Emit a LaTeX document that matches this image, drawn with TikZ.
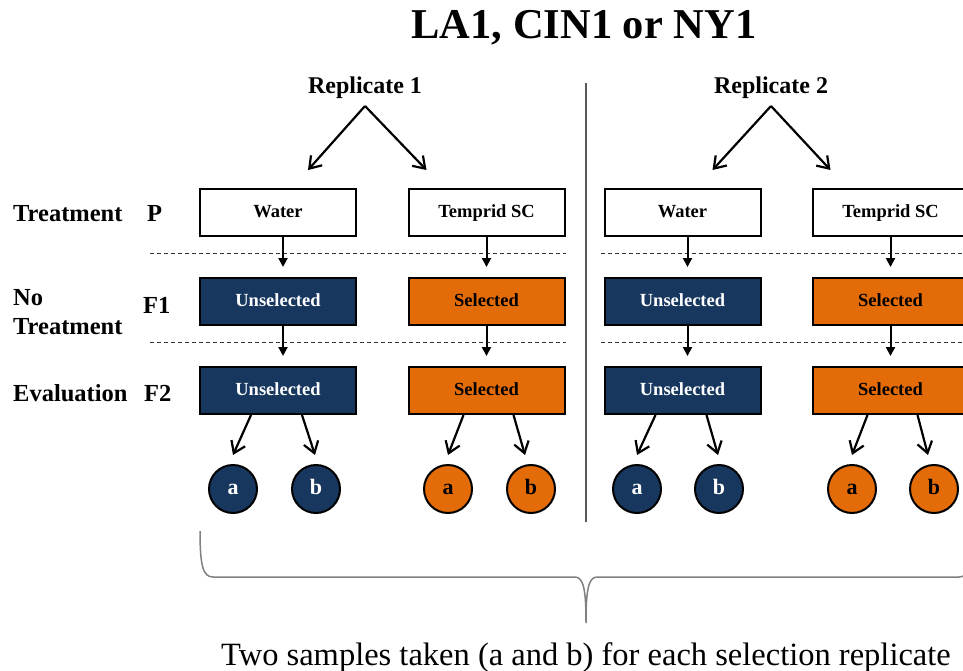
\documentclass[tikz,border=0pt]{standalone}
\usepackage{fontspec}
\setmainfont{Liberation Serif}
\usetikzlibrary{arrows.meta,calc}
\definecolor{navy}{HTML}{17375E}
\definecolor{orng}{HTML}{E36C09}
\definecolor{divider}{HTML}{595959}
\definecolor{bracegray}{HTML}{808080}
\begin{document}
\begin{tikzpicture}[x=1pt,y=-1pt,
  box/.style={draw=black,line width=2pt,minimum width=156pt,minimum height=47pt,
    inner sep=0pt,text height=13pt,text depth=3pt,
    font=\fontsize{18.5}{18.5}\selectfont\bfseries},
  water/.style={box,fill=white},
  unsel/.style={box,fill=navy,text=white},
  sel/.style={box,fill=orng,text=black},
  sample/.style={circle,draw=black,line width=2pt,minimum size=48pt,inner sep=0pt,
    text height=11pt,text depth=0pt,font=\fontsize{22}{22}\selectfont\bfseries},
  nsample/.style={sample,fill=navy,text=white},
  osample/.style={sample,fill=orng,text=black},
  rowlabel/.style={anchor=base west,inner sep=0pt,font=\fontsize{24.5}{28}\selectfont\bfseries},
  replabel/.style={anchor=base,inner sep=0pt,font=\fontsize{24}{28}\selectfont\bfseries},
  varr/.style={line width=2pt,-{Triangle[length=9pt,width=9pt]}},
  sarr/.style={line width=2.2pt,-{Straight Barb[length=11pt,width=15pt,line width=2.2pt]}},
  sepline/.style={line width=1pt,draw=black!80,dash pattern=on 4pt off 3pt},
]
\useasboundingbox (0,0) rectangle (963,671);
\clip (0,0) rectangle (963,671);

% title
\node[anchor=base,inner sep=0pt,font=\fontsize{42.5}{42.5}\selectfont\bfseries] (title) at (584,39) {LA1, CIN1 or NY1};

% row labels
\node[rowlabel] (lt) at (13,221) {Treatment};
\node[rowlabel] (lno) at (13,305) {No};
\node[rowlabel] (lnt) at (13,334) {Treatment};
\node[rowlabel] (le) at (13,401) {Evaluation};
\node[rowlabel] (gp) at (147,221) {P};
\node[rowlabel] (g1) at (143,313) {F1};
\node[rowlabel] (g2) at (144,401) {F2};

% separators between generations
\draw[sepline] (150,253) -- (566,253);
\draw[sepline] (601,253) -- (963,253);
\draw[sepline] (150,342) -- (566,342);
\draw[sepline] (601,342) -- (963,342);

% divider between replicates
\draw[divider,line width=1.5pt] (586,83) -- (586,522);

% replicate headings
\node[replabel] (rep1) at (365,94) {Replicate 1};
\node[replabel] (rep2) at (771,94) {Replicate 2};

% replicate 1
\node[water] (w1) at (278,212.5) {Water};
\node[water] (t1) at (486.5,212.5) {Temprid SC};
\node[unsel] (u1) at (278,301.5) {Unselected};
\node[sel]   (s1) at (486.5,301.5) {Selected};
\node[unsel] (uu1) at (278,390.5) {Unselected};
\node[sel]   (ss1) at (486.5,390.5) {Selected};
\node[nsample] (na1) at (233,489) {a};
\node[nsample] (nb1) at (316,489) {b};
\node[osample] (oa1) at (448,489) {a};
\node[osample] (ob1) at (531,489) {b};

% replicate 2
\node[water] (w2) at (682.5,212.5) {Water};
\node[water] (t2) at (890.5,212.5) {Temprid SC};
\node[unsel] (u2) at (682.5,301.5) {Unselected};
\node[sel]   (s2) at (890.5,301.5) {Selected};
\node[unsel] (uu2) at (682.5,390.5) {Unselected};
\node[sel]   (ss2) at (890.5,390.5) {Selected};
\node[nsample] (na2) at (637,489) {a};
\node[nsample] (nb2) at (719,489) {b};
\node[osample] (oa2) at (852,489) {a};
\node[osample] (ob2) at (934,489) {b};

% connectors
\foreach \r in {1,2}{
  \draw[sarr] ($(rep\r.base)+(0,12)$) -- ($(w\r.north)+(30,-18)$);
  \draw[sarr] ($(rep\r.base)+(0,12)$) -- ($(t\r.north)+(-60,-18)$);
  \draw[varr] ($(w\r.south)+(5,0)$) -- ($(u\r.north)+(5,-10)$);
  \draw[varr] (t\r.south) -- ($(s\r.north)+(0,-10)$);
  \draw[varr] ($(u\r.south)+(5,0)$) -- ($(uu\r.north)+(5,-10)$);
  \draw[varr] (s\r.south) -- ($(ss\r.north)+(0,-10)$);
  \draw[sarr] ($(uu\r.south)+(-27,0)$) -- ($(na\r.north)+(0,-9)$);
  \draw[sarr] ($(uu\r.south)+(24,0)$) -- ($(nb\r.north)+(-1,-9)$);
  \draw[sarr] ($(ss\r.south)+(-23,0)$) -- ($(oa\r.north)+(0,-9)$);
  \draw[sarr] ($(ss\r.south)+(27,0)$) -- ($(ob\r.north)+(-6,-9)$);
}

% brace gathering both replicates
\draw[bracegray,line width=1.5pt]
  (200,531) .. controls (200,566) and (203,577) .. (213,577)
  -- (575,577) .. controls (584,577) and (586,592) .. (586,623)
  .. controls (586,592) and (588,577) .. (597,577)
  -- (959,577) .. controls (969,577) and (972,566) .. (972,531);

\node[anchor=base,inner sep=0pt,font=\fontsize{32.5}{32.5}\selectfont] (note) at (586,665)
  {Two samples taken (a and b) for each selection replicate};
\end{tikzpicture}
\end{document}
